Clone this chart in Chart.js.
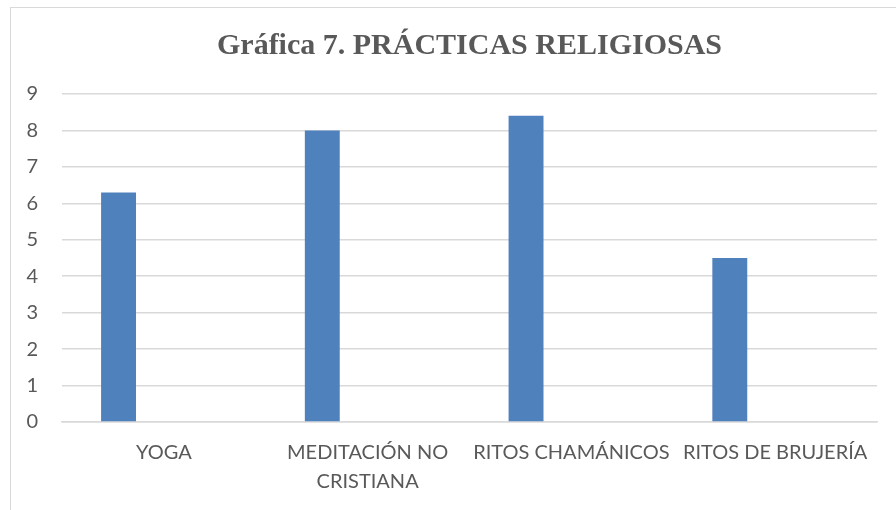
<!DOCTYPE html>
<html>
<head>
<meta charset="utf-8">
<script src="https://cdn.jsdelivr.net/npm/chart.js@4"></script>
<style>
    body { margin: 0; background: #fff; }
    #wrap { position: absolute; left: 0; top: 0; width: 896px; height: 510px; overflow: hidden; }
    #frame { position: absolute; left: 10px; top: 7px; width: 900px; height: 520px; border: 1px solid #d9d9d9; }
    #box { position: absolute; left: 0; top: 0; width: 896px; height: 510px; }
</style>
</head>
<body>
<div id="wrap">
    <div id="frame"></div>
    <div id="box"><canvas id="chart"></canvas></div>
</div>
<script>
// Chart data
const categories = ['YOGA', ['MEDITACIÓN NO', 'CRISTIANA'], 'RITOS CHAMÁNICOS', 'RITOS DE BRUJERÍA'];
const values = [6.3, 8.0, 8.4, 4.5];
const emptySeries = [null, null, null, null]; // second (empty) series in the original sheet
const yMin = 0;
const yMax = 9;

const labelFont = { family: "Lato, 'Liberation Sans', sans-serif", size: 20, lineHeight: 1.45 };
const textColor = '#595959';
const gridColor = '#d9d9d9';

const ctx = document.getElementById('chart').getContext('2d');
new Chart(ctx, {
    type: 'bar',
    data: {
        labels: categories,
        datasets: [{
            data: values,
            backgroundColor: '#4f81bd',
            categoryPercentage: 0.89,
            barPercentage: 0.385
        }, {
            data: emptySeries,
            backgroundColor: '#c0504d',
            categoryPercentage: 0.89,
            barPercentage: 0.385
        }]
    },
    options: {
        responsive: true,
        maintainAspectRatio: false,
        animation: false,
        layout: { padding: { left: 0, right: 19, top: 0, bottom: 0 } },
        plugins: {
            legend: { display: false },
            tooltip: { enabled: false },
            title: {
                display: true,
                fullSize: false,
                text: 'Gráfica 7. PRÁCTICAS RELIGIOSAS',
                color: textColor,
                font: { family: "'Liberation Serif', 'Times New Roman', serif", size: 30, weight: 'bold', lineHeight: 1.2 },
                padding: { top: 28, bottom: 30 }
            }
        },
        scales: {
            x: {
                grid: { display: false, drawTicks: false },
                border: { display: true, color: gridColor, width: 1.5 },
                ticks: {
                    color: textColor,
                    font: labelFont,
                    padding: 16,
                    maxRotation: 0,
                    autoSkip: false
                },
                afterFit: function(scale) {
                    scale.height = 88;
                    scale.paddingLeft = 0;
                    scale.paddingRight = 0;
                }
            },
            y: {
                min: yMin,
                max: yMax,
                grid: { color: gridColor, lineWidth: 1.5, drawTicks: false },
                border: { display: false },
                ticks: {
                    stepSize: 1,
                    color: textColor,
                    font: labelFont,
                    padding: 24
                },
                afterFit: function(scale) { scale.width = 62; }
            }
        }
    }
});
</script>
</body>
</html>
